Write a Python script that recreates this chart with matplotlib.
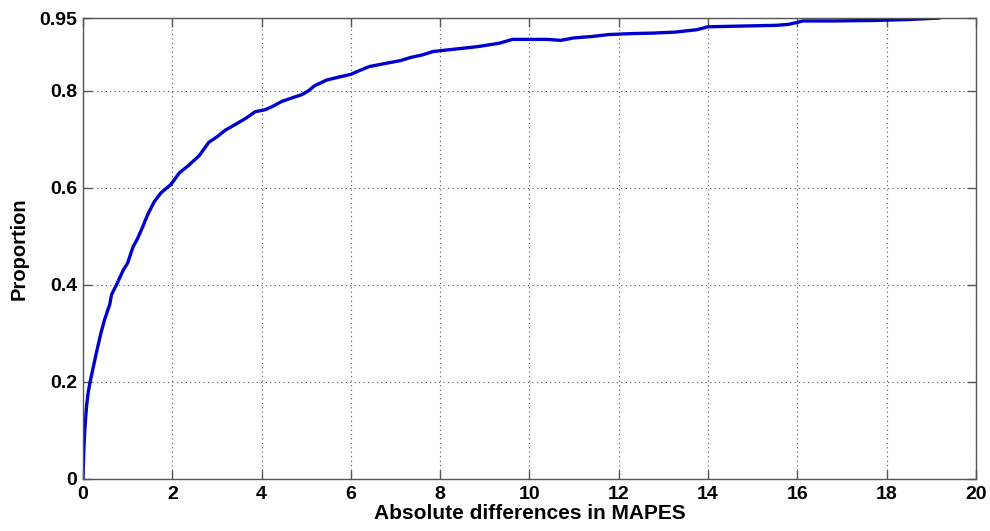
import numpy as np
import matplotlib
matplotlib.use('Agg')
import matplotlib.pyplot as plt

mape_diff = [0.0, 0.02, 0.04, 0.08, 0.12, 0.16, 0.23, 0.3, 0.4, 0.49, 0.6, 0.64, 0.75,
             0.9, 1.0, 1.12, 1.22, 1.34, 1.45, 1.6, 1.75, 1.97, 2.16, 2.35, 2.6, 2.82,
             3.0, 3.19, 3.4, 3.64, 3.86, 4.08, 4.25, 4.45, 4.7, 4.9, 5.05, 5.18, 5.45,
             5.67, 6.0, 6.2, 6.41, 6.86, 7.1, 7.35, 7.6, 7.84, 8.33, 8.83, 9.32, 9.62,
             10.02, 10.4, 10.7, 10.99, 11.4, 11.78, 12.3, 12.77, 13.26, 13.75, 14.0,
             14.5, 15.0, 15.53, 15.8, 16.0, 16.12, 16.8, 17.7, 18.5, 19.17]
proportion = [0.0, 0.06, 0.1, 0.15, 0.18, 0.2, 0.23, 0.26, 0.3, 0.33, 0.36, 0.38, 0.4,
              0.43, 0.445, 0.478, 0.495, 0.52, 0.545, 0.572, 0.59, 0.607, 0.631, 0.645,
              0.666, 0.694, 0.705, 0.719, 0.73, 0.743, 0.757, 0.761, 0.768, 0.778, 0.786,
              0.792, 0.8, 0.81, 0.822, 0.827, 0.834, 0.842, 0.85, 0.858, 0.862, 0.869,
              0.874, 0.881, 0.886, 0.891, 0.898, 0.906, 0.906, 0.906, 0.904, 0.909,
              0.912, 0.916, 0.918, 0.919, 0.921, 0.926, 0.932, 0.933, 0.934, 0.935,
              0.937, 0.941, 0.944, 0.944, 0.945, 0.947, 0.95]

xticks = [0, 2, 4, 6, 8, 10, 12, 14, 16, 18, 20]
yticks = [0, 0.2, 0.4, 0.6, 0.8, 0.95]
ytick_labels = ['0', '0.2', '0.4', '0.6', '0.8', '0.95']

plt.rcParams['font.family'] = ['Liberation Sans', 'DejaVu Sans']
plt.rcParams['font.weight'] = 'bold'

fig = plt.figure(figsize=(9.9, 5.31), dpi=100)
ax = fig.add_axes([0.0838, 0.098, 0.902, 0.868])

ax.plot(mape_diff, proportion, color='#0000cc', linewidth=2.4)

ax.set_xlim(0, 20)
ax.set_ylim(0, 0.95)
ax.set_xticks(xticks)
ax.set_yticks(yticks)
ax.set_yticklabels(ytick_labels)
ax.tick_params(direction='in', top=True, right=True, length=6.5, width=1,
               color='#555555', labelsize=14)
ax.tick_params(axis='x', pad=5)
ax.tick_params(axis='y', pad=4)
for lbl in ax.get_xticklabels() + ax.get_yticklabels():
    lbl.set_fontweight('bold')
for sp in ax.spines.values():
    sp.set_color('#555555')
    sp.set_linewidth(1)

ax.grid(True, linestyle=(0, (1, 3)), color='#555555', linewidth=0.8)

ax.set_xlabel('Absolute differences in MAPES', fontsize=15, fontweight='bold', labelpad=1)
ax.set_ylabel('Proportion', fontsize=14.5, fontweight='bold', labelpad=8)

fig.savefig('out.png', dpi=100)
